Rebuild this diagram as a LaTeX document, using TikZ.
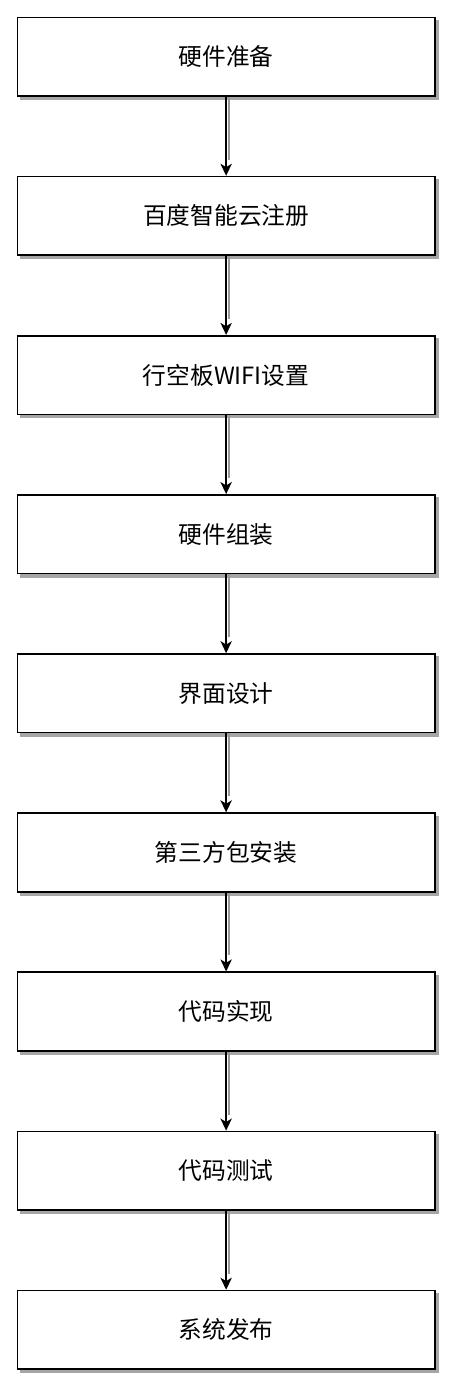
\documentclass[tikz,border=0pt]{standalone}
\usepackage{fontspec}
\newfontfamily\cjk{Noto Sans CJK SC}
\usetikzlibrary{positioning,shapes,arrows,arrows.meta,backgrounds}

\tikzset{
stepbox/.style={draw, line width=1.2pt, fill=white, minimum width=313pt, minimum height=59pt, font=\cjk\fontsize{17.8}{20}\selectfont},
boxshade/.style={fill=black!35},
flow/.style={-{Stealth[length=9pt, width=8.5pt, inset=2.5pt]}, line width=1.2pt},
flowshade/.style={draw=black!40, line width=1.3pt}
}

\begin{document}
\begin{tikzpicture}[node distance=59.15pt]
\useasboundingbox (0,0) rectangle (342pt,-1045.5pt);
\node[stepbox, anchor=north west] (hw) at (12.5pt,-12.5pt) {硬件准备};
\node[stepbox, below=of hw] (cloud) {百度智能云注册};
\node[stepbox, below=of cloud] (wifi) {行空板WIFI设置};
\node[stepbox, below=of wifi] (build) {硬件组装};
\node[stepbox, below=of build] (ui) {界面设计};
\node[stepbox, below=of ui] (pkg) {第三方包安装};
\node[stepbox, below=of pkg] (code) {代码实现};
\node[stepbox, below=of code] (test) {代码测试};
\node[stepbox, below=of test] (rel) {系统发布};

% shadows behind the boxes
\begin{scope}[on background layer]
\foreach \n in {hw, cloud, wifi, build, ui, pkg, code, test, rel}
  \fill[boxshade] ([shift={(2.4pt,-2.4pt)}]\n.south west) rectangle ([shift={(2.4pt,-2.4pt)}]\n.north east);
\end{scope}

% shade next to each connector
\foreach \a/\b in {hw/cloud, cloud/wifi, wifi/build, build/ui, ui/pkg, pkg/code, code/test, test/rel}
  \draw[flowshade] ([xshift=2pt]\a.south) -- ([xshift=2pt, yshift=12pt]\b.north);

\draw[flow] (hw) -- (cloud);
\draw[flow] (cloud) -- (wifi);
\draw[flow] (wifi) -- (build);
\draw[flow] (build) -- (ui);
\draw[flow] (ui) -- (pkg);
\draw[flow] (pkg) -- (code);
\draw[flow] (code) -- (test);
\draw[flow] (test) -- (rel);
\end{tikzpicture}
\end{document}
